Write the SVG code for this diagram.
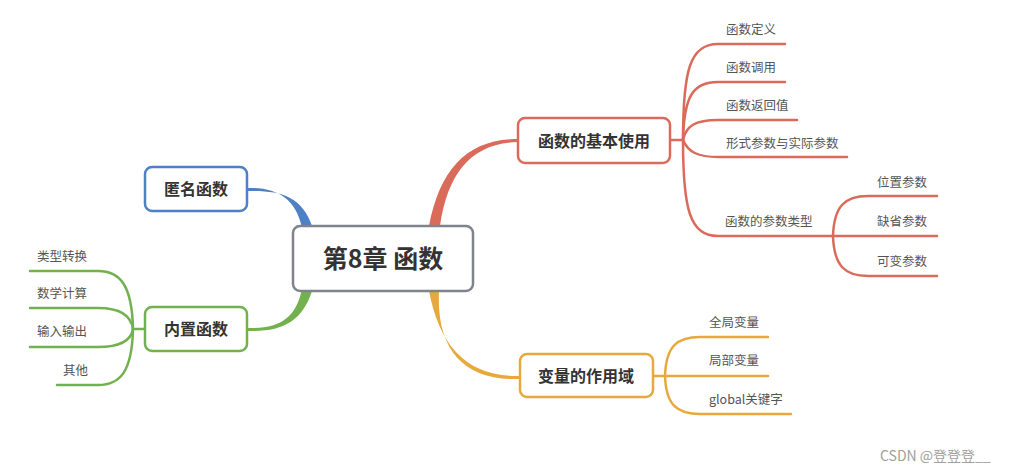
<svg xmlns="http://www.w3.org/2000/svg" width="1024" height="473" viewBox="0 0 1024 473">
<style>
.txt{font-family:"Noto Sans CJK SC","Liberation Sans",sans-serif;}
.node{fill:#fff;stroke-width:2.5;}
.ntxt{font-size:16px;font-weight:bold;fill:#333;text-anchor:middle;}
.ctxt{font-size:12.5px;fill:#555;}
.br{fill:none;stroke-width:2.5;stroke-linecap:round;}
.red{stroke:#da6b5b;} .org{stroke:#e8a93c;} .grn{stroke:#73b14f;} .blu{stroke:#4d80c4;}
</style>
<rect width="1024" height="473" fill="#fff"/>
<g id="connectors">
  <!-- main tapered branches -->
  <path d="M429,226 C440,168 468,139 518,139 L518,142 C472,143 448,172 440,226 Z" fill="#da6b5b"/>
  <path d="M429,291 C440,348 468,377 520,376 L520,379 C466,381 436,352 439,291 Z" fill="#e8a93c"/>
  <path d="M247,188 C276,187 296,198 302,228 L312,226 C302,196 280,190 247,191 Z" fill="#4d80c4"/>
  <path d="M247,328 C280,329 296,318 302,289 L312,291 C302,322 282,332 247,331 Z" fill="#73b14f"/>
  <!-- red children -->
  <path class="br red" d="M670,140 H683"/>
  <path class="br red" d="M683,140 C683,70 690,44 718,44 H785"/>
  <path class="br red" d="M683,140 C684,96 693,82 718,82 H785"/>
  <path class="br red" d="M683,140 C686,126 695,120 718,120 H797"/>
  <path class="br red" d="M683,140 C688,152 698,157 718,157 H847"/>
  <path class="br red" d="M683,140 C683,210 690,236 718,236 H937"/>
  <path class="br red" d="M833,236 C834,206 845,196 868,196 H937"/>
  <path class="br red" d="M833,236 C834,266 845,276 868,276 H937"/>
  <!-- orange children -->
  <path class="br org" d="M653,376 H768"/>
  <path class="br org" d="M665,376 C666,346 677,337 700,337 H768"/>
  <path class="br org" d="M665,376 C666,405 677,414 700,414 H791"/>
  <!-- green children -->
  <path class="br grn" d="M145,329 H133"/>
  <path class="br grn" d="M133,329 C132,285 120,271 98,271 H30"/>
  <path class="br grn" d="M133,329 C131,315 120,308 98,308 H30"/>
  <path class="br grn" d="M133,329 C131,341 120,347 98,347 H30"/>
  <path class="br grn" d="M133,329 C132,372 120,385 98,385 H57"/>
</g>
<g id="root">
  <rect x="293" y="226" width="180" height="65" rx="7" class="node" stroke="#7f848c" stroke-width="3"/>
  <text x="383" y="268" class="txt" font-size="25" font-weight="bold" fill="#333" text-anchor="middle">第8章 函数</text>
</g>
<g id="n-basic">
  <rect x="518" y="118" width="152" height="45" rx="7" class="node" stroke="#da6b5b"/>
  <text x="594" y="147" class="txt ntxt">函数的基本使用</text>
</g>
<g id="n-scope">
  <rect x="520" y="354" width="133" height="43" rx="7" class="node" stroke="#e8a93c"/>
  <text x="586" y="382" class="txt ntxt">变量的作用域</text>
</g>
<g id="n-anon">
  <rect x="145" y="167" width="102" height="44" rx="7" class="node" stroke="#4d80c4"/>
  <text x="196" y="195" class="txt ntxt">匿名函数</text>
</g>
<g id="n-builtin">
  <rect x="145" y="307" width="102" height="44" rx="7" class="node" stroke="#73b14f"/>
  <text x="196" y="335" class="txt ntxt">内置函数</text>
</g>
<g id="c-def"><text x="726" y="34" class="txt ctxt">函数定义</text></g>
<g id="c-call"><text x="726" y="72" class="txt ctxt">函数调用</text></g>
<g id="c-ret"><text x="726" y="110" class="txt ctxt">函数返回值</text></g>
<g id="c-param"><text x="726" y="148" class="txt ctxt">形式参数与实际参数</text></g>
<g id="c-ptype"><text x="725" y="226" class="txt ctxt">函数的参数类型</text></g>
<g id="c-pos"><text x="877" y="187" class="txt ctxt">位置参数</text></g>
<g id="c-default"><text x="877" y="226" class="txt ctxt">缺省参数</text></g>
<g id="c-var"><text x="877" y="266" class="txt ctxt">可变参数</text></g>
<g id="c-global"><text x="709" y="327" class="txt ctxt">全局变量</text></g>
<g id="c-local"><text x="709" y="365" class="txt ctxt">局部变量</text></g>
<g id="c-gkw"><text x="709" y="404" class="txt ctxt">global关键字</text></g>
<g id="c-type"><text x="37" y="261" class="txt ctxt">类型转换</text></g>
<g id="c-math"><text x="37" y="298" class="txt ctxt">数学计算</text></g>
<g id="c-io"><text x="37" y="336" class="txt ctxt">输入输出</text></g>
<g id="c-other"><text x="63" y="375" class="txt ctxt">其他</text></g>
<text x="880" y="461" class="txt" font-size="14" fill="#a0a0a0">CSDN @登登登__</text>
</svg>
